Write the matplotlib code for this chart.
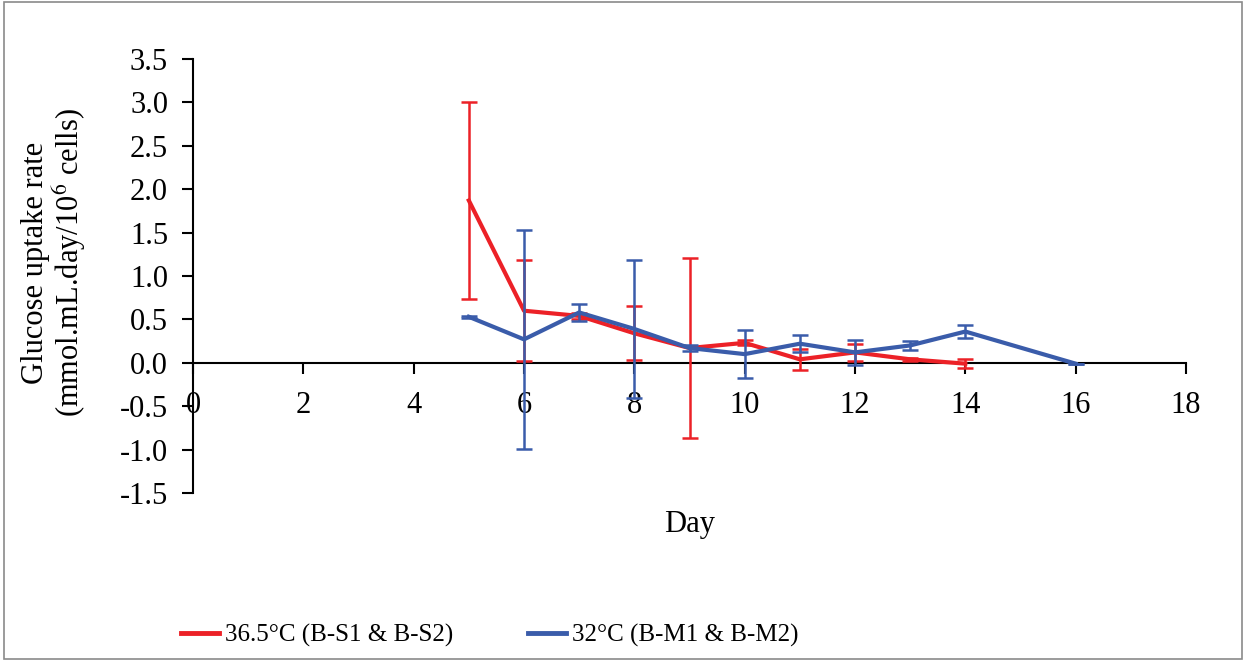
import matplotlib
matplotlib.use("Agg")
import matplotlib.pyplot as plt
from matplotlib.patches import Rectangle
from matplotlib.lines import Line2D

# Data
days_red = [5, 6, 7, 8, 9, 10, 11, 12, 13, 14]
rate_red = [1.87, 0.60, 0.54, 0.34, 0.17, 0.23, 0.04, 0.12, 0.04, -0.01]
err_red = [1.14, 0.58, 0.03, 0.31, 1.04, 0.03, 0.12, 0.10, 0.02, 0.05]

days_blue = [5, 6, 7, 8, 9, 10, 11, 12, 13, 14, 16]
rate_blue = [0.53, 0.27, 0.58, 0.39, 0.17, 0.10, 0.22, 0.12, 0.20, 0.36, -0.01]
err_blue = [0.01, 1.26, 0.10, 0.80, 0.03, 0.28, 0.10, 0.14, 0.05, 0.08, 0.0]

label_red = "36.5\u00b0C (B-S1 & B-S2)"
label_blue = "32\u00b0C (B-M1 & B-M2)"
xticks = list(range(0, 19, 2))
yticks = [-1.5, -1.0, -0.5, 0.0, 0.5, 1.0, 1.5, 2.0, 2.5, 3.0, 3.5]

RED = "#EC2127"
BLUE = "#3A5CAA"

plt.rcParams['font.family'] = ['Liberation Serif', 'DejaVu Serif']
plt.rcParams['mathtext.fontset'] = 'stix'

fig = plt.figure(figsize=(12.46, 6.61), dpi=100)
ax = fig.add_axes([193/1246, 1-493/661, (1186-193)/1246, (493-59)/661])

ax.errorbar(days_red, rate_red, yerr=err_red, color=RED, lw=3, elinewidth=1.8,
            capsize=6, capthick=1.8, zorder=3)
ax.errorbar(days_blue, rate_blue, yerr=err_blue, color=BLUE, lw=3, elinewidth=1.8,
            capsize=6, capthick=1.8, zorder=4)

ax.set_xlim(0, 18)
ax.set_ylim(-1.5, 3.5)
ax.set_xticks(xticks)
ax.set_yticks(yticks)
ax.set_yticklabels([f"{v:.1f}" for v in yticks])
ax.spines['top'].set_visible(False)
ax.spines['right'].set_visible(False)
ax.spines['bottom'].set_position(('data', 0))
ax.spines['left'].set_linewidth(1.5)
ax.spines['bottom'].set_linewidth(1.5)
ax.tick_params(axis='both', labelsize=22, width=1.5, length=8, direction='out')
ax.tick_params(axis='x', pad=12)
ax.tick_params(axis='y', pad=10)

ax.set_xlabel("Day", fontsize=22)
ax.xaxis.set_label_coords(0.5, -0.04)
ax.set_ylabel("Glucose uptake rate\n(mmol.mL.day/10$^6$ cells)", fontsize=22, linespacing=1.0)
ax.yaxis.set_label_coords(-0.106, 0.53)

handles = [Line2D([], [], color=RED, lw=3.5), Line2D([], [], color=BLUE, lw=3.5)]
fig.legend(handles=handles, labels=[label_red, label_blue], loc='center',
           bbox_to_anchor=(0.393, 0.039), ncol=2, frameon=False, fontsize=18,
           handlelength=1.5, columnspacing=3.0, handletextpad=0.25)

fig.patches.append(Rectangle((0.003, 0.003), 0.994, 0.994, transform=fig.transFigure,
                             fill=False, edgecolor='#8a8a8a', lw=1.2))

fig.savefig("out.png", dpi=100)
